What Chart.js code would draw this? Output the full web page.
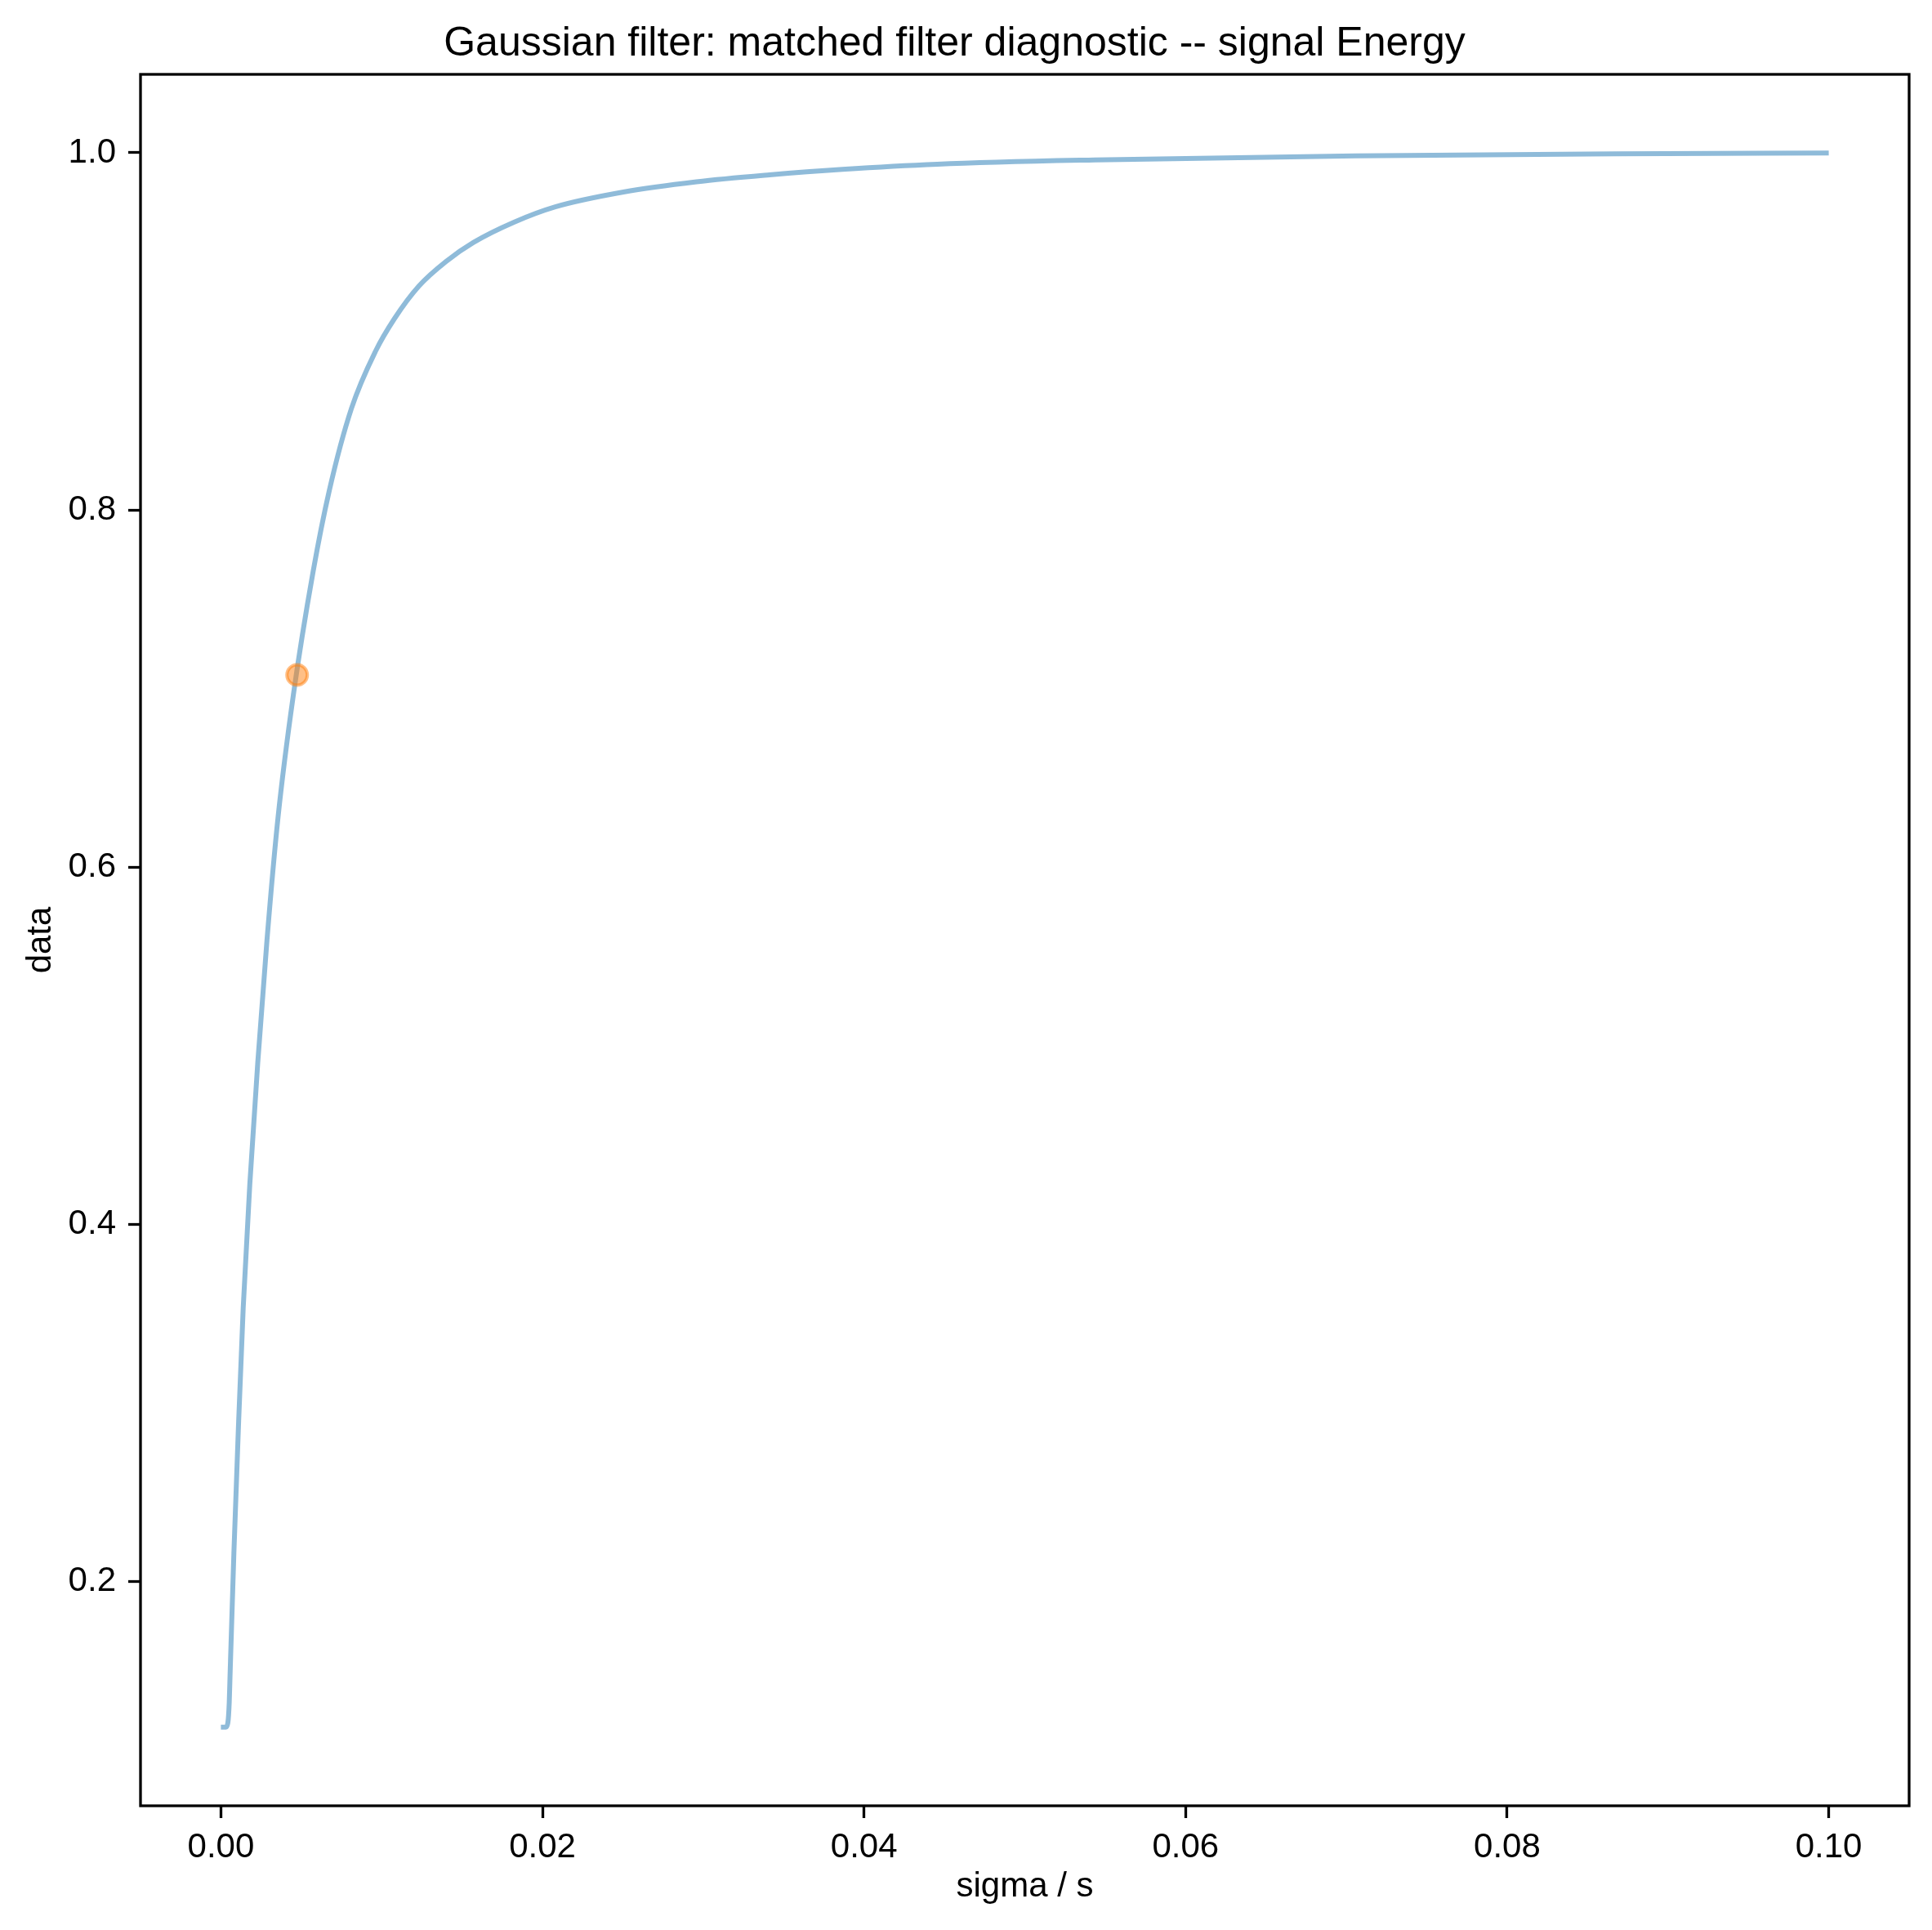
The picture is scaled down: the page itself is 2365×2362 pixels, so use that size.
<!DOCTYPE html>
<html>
<head>
<meta charset="utf-8">
<script src="https://cdn.jsdelivr.net/npm/chart.js@4/dist/chart.umd.min.js"></script>
<style>
  html, body { margin: 0; padding: 0; background: #fff; }
  #chart { display: block; }
</style>
</head>
<body>
<canvas id="chart" width="2365" height="2362" style="width:2365px;height:2362px"></canvas>
<script>
// curve
const sigma = [
  0, 0.000305, 0.000432, 0.000519, 0.000569, 0.000808, 0.001083, 0.001388,
  0.001795, 0.002293, 0.002867, 0.003554, 0.004509, 0.00573, 0.006746, 0.008119,
  0.009614, 0.010793, 0.012318, 0.013996, 0.015714, 0.018256, 0.020798, 0.025038,
  0.029578, 0.034118, 0.038658, 0.044555, 0.054347, 0.070564, 0.086782, 0.1
];
const energy = [
  0.1184, 0.1184, 0.1208, 0.1323, 0.1474, 0.216, 0.2847, 0.3533,
  0.422, 0.4906, 0.5593, 0.6279, 0.6966, 0.7652, 0.811, 0.8568,
  0.8888, 0.9071, 0.9254, 0.9391, 0.9498, 0.9612, 0.9697, 0.978,
  0.9837, 0.9876, 0.9907, 0.9936, 0.996, 0.9983, 0.9994, 0.9999
];
// the highlighted point
const markSigma = [0.00474];
const markEnergy = [0.7076];

const xTicks = [0, 0.02, 0.04, 0.06, 0.08, 0.10];
const yTicks = [0.2, 0.4, 0.6, 0.8, 1.0];

const titleText = 'Gaussian filter: matched filter diagnostic -- signal Energy';
const xLabel = 'sigma / s';
const yLabel = 'data';

const FONT = "'Liberation Sans', Arial, Helvetica, sans-serif";

const framePlugin = {
  id: 'frame',
  afterDraw: (chart) => {
    const { ctx, chartArea } = chart;
    ctx.save();
    ctx.strokeStyle = '#000';
    ctx.lineWidth = 3.3;
    ctx.strokeRect(chartArea.left, chartArea.top,
      chartArea.right - chartArea.left, chartArea.bottom - chartArea.top);
    ctx.restore();
  }
};

const tickSetup = (values) => (scale) => {
  scale.ticks = values.map(v => ({ value: v }));
};

new Chart(document.getElementById('chart'), {
  type: 'line',
  data: {
    datasets: [
      {
        type: 'scatter',
        data: markSigma.map((s, i) => ({ x: s, y: markEnergy[i] })),
        backgroundColor: 'rgba(255,127,14,0.5)',
        borderColor: 'rgba(255,127,14,0.5)',
        borderWidth: 4,
        pointRadius: 12.5,
        order: 0
      },
      {
        data: sigma.map((s, i) => ({ x: s, y: energy[i] })),
        borderColor: 'rgba(31,119,180,0.5)',
        borderWidth: 6,
        pointRadius: 0,
        fill: false,
        cubicInterpolationMode: 'monotone',
        borderCapStyle: 'butt',
        borderJoinStyle: 'round',
        order: 1
      }
    ]
  },
  options: {
    responsive: false,
    devicePixelRatio: 1,
    animation: false,
    layout: { padding: { left: 0, right: 28, top: 0, bottom: 0 } },
    plugins: {
      legend: { display: false },
      tooltip: { enabled: false },
      title: {
        display: true,
        text: titleText,
        color: '#000',
        font: { family: FONT, size: 50, weight: 'normal' },
        padding: { top: 24, bottom: 7 }
      }
    },
    scales: {
      x: {
        type: 'linear',
        min: -0.005,
        max: 0.105,
        afterBuildTicks: tickSetup(xTicks),
        afterFit: (scale) => { scale.height = 152; },
        border: { display: false },
        grid: {
          drawOnChartArea: false,
          drawTicks: true,
          tickLength: 15,
          tickWidth: 3.3,
          tickColor: '#000'
        },
        ticks: {
          color: '#000',
          padding: 11,
          maxRotation: 0,
          autoSkip: false,
          font: { family: FONT, size: 42 },
          callback: (v) => Number(v).toFixed(2)
        },
        title: {
          display: true,
          text: xLabel,
          color: '#000',
          font: { family: FONT, size: 42 },
          padding: { top: 0, bottom: 27 }
        }
      },
      y: {
        type: 'linear',
        min: 0.0744,
        max: 1.0439,
        afterBuildTicks: tickSetup(yTicks),
        afterFit: (scale) => { scale.width = 172; },
        border: { display: false },
        grid: {
          drawOnChartArea: false,
          drawTicks: true,
          tickLength: 15,
          tickWidth: 3.3,
          tickColor: '#000'
        },
        ticks: {
          color: '#000',
          padding: 15,
          autoSkip: false,
          font: { family: FONT, size: 42 },
          callback: (v) => Number(v).toFixed(1)
        },
        title: {
          display: true,
          text: yLabel,
          color: '#000',
          font: { family: FONT, size: 42 },
          padding: { top: 25, bottom: 0 }
        }
      }
    }
  },
  plugins: [framePlugin]
});
</script>
</body>
</html>
